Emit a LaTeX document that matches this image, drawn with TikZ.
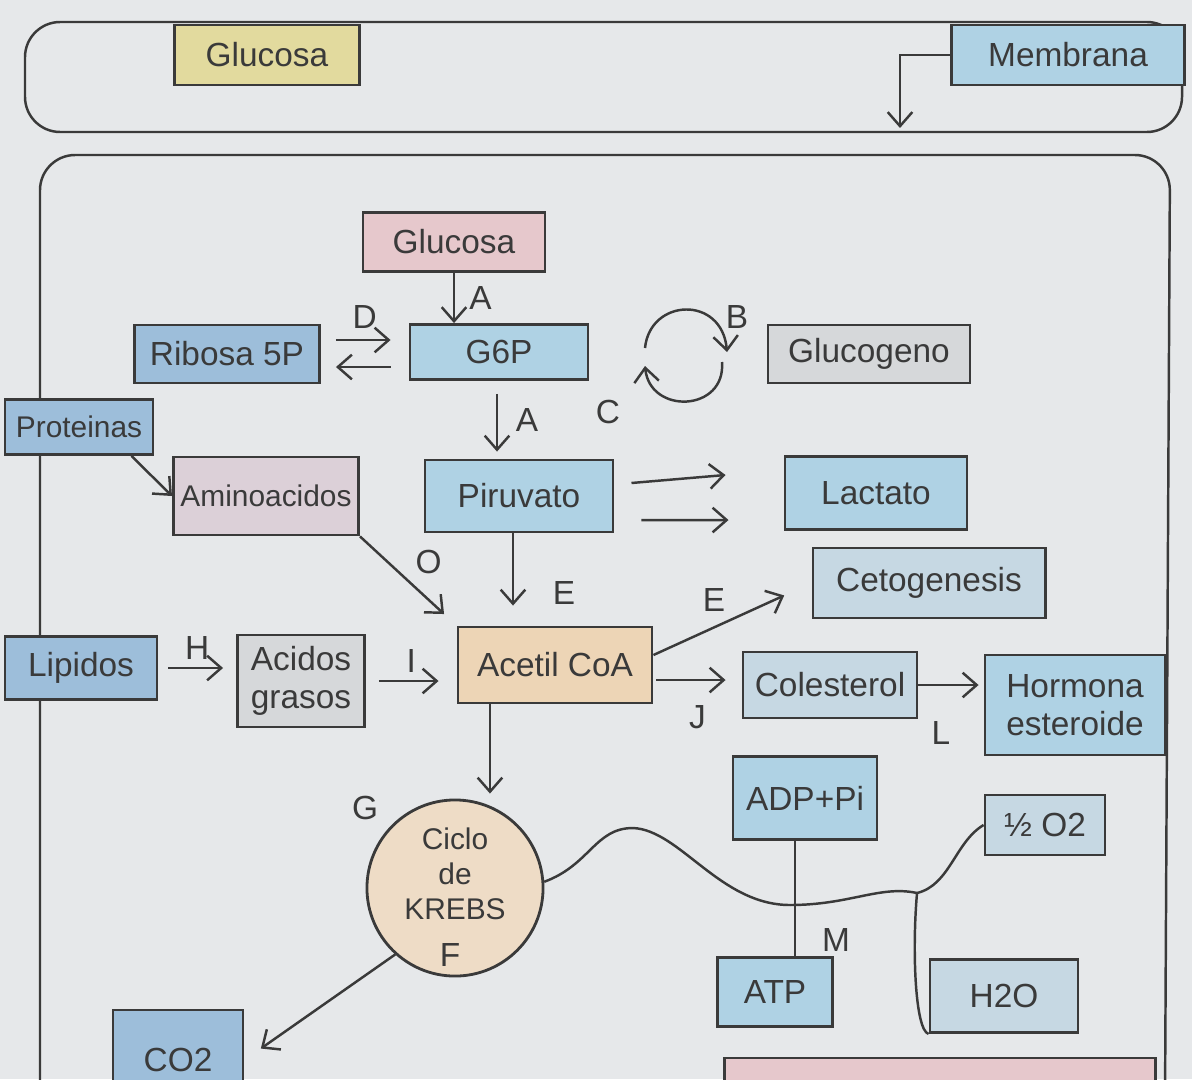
\documentclass[tikz,border=0pt]{standalone}
\usepackage{fontspec}
\setmainfont{Liberation Sans}
\usepackage{xcolor}
\usetikzlibrary{arrows.meta, positioning, calc}

\definecolor{paper}{HTML}{E6E8EA}
\definecolor{ink}{HTML}{3A3A3A}
\definecolor{cyel}{HTML}{E2DA9E}
\definecolor{cblue}{HTML}{AFD2E4}
\definecolor{cdblue}{HTML}{9DBEDA}
\definecolor{clblue}{HTML}{C6D8E3}
\definecolor{cpink}{HTML}{E6C8CC}
\definecolor{clav}{HTML}{DCD0D8}
\definecolor{cgray}{HTML}{D6D8DA}
\definecolor{cpeach}{HTML}{EDD5B6}
\definecolor{ckrebs}{HTML}{EEDCC6}

\begin{document}
\begin{tikzpicture}[x=0.01cm, y=-0.01cm,
    box/.style={rectangle, draw=ink, line width=0.8pt, inner sep=2pt, text=ink,
      font=\fontsize{9.5}{11}\selectfont, align=center},
    arrow/.style={->, >={Straight Barb[length=4pt,width=7pt]}, line width=0.7pt, draw=ink},
    wire/.style={line width=0.7pt, draw=ink},
    lbl/.style={text=ink, font=\fontsize{9.5}{11}\selectfont, inner sep=1pt}
  ]
  \clip (0,0) rectangle (1192,1079);
  \fill[paper] (0,0) rectangle (1192,1079);

  % Frames
  \draw[wire, rounded corners=10pt] (25,22) rectangle (1182,132);
  \draw[wire, rounded corners=10pt] (40,1100) |- (1170,155) -- (1165,1100);

  % Top strip
  \node[box, fill=cyel, minimum width=1.85cm, minimum height=0.6cm] (glutop) at (267,55) {Glucosa};
  \node[box, fill=cblue, minimum width=2.33cm, minimum height=0.6cm] (membrana) at (1068,55) {Membrana};
  \coordinate (memdown) at (900,128);
  \draw[arrow] (membrana.west) -| (memdown);

  % Boxes
  \node[box, fill=cpink, minimum width=1.82cm, minimum height=0.59cm] (glu) at (454,242) {Glucosa};
  \node[box, fill=cblue, minimum width=1.78cm, minimum height=0.55cm] (g6p) at (499,352) {G6P};
  \node[box, fill=cdblue, minimum width=1.85cm, minimum height=0.58cm] (ribosa) at (227,354) {Ribosa 5P};
  \node[box, fill=cgray, minimum width=2.02cm, minimum height=0.58cm] (glucogeno) at (869,354) {Glucogeno};
  \node[box, fill=cdblue, minimum width=1.48cm, minimum height=0.55cm, font=\fontsize{8.5}{10}\selectfont] (proteinas) at (79,427) {Proteinas};
  \node[box, fill=clav, minimum width=1.77cm, minimum height=0.78cm, font=\fontsize{8.5}{10}\selectfont] (amino) at (266,496) {Aminoacidos};
  \node[box, fill=cblue, minimum width=1.88cm, minimum height=0.72cm] (piruvato) at (519,496) {Piruvato};
  \node[box, fill=cblue, minimum width=1.82cm, minimum height=0.73cm] (lactato) at (876,493) {Lactato};
  \node[box, fill=clblue, minimum width=2.32cm, minimum height=0.70cm] (ceto) at (929,583) {Cetogenesis};
  \node[box, fill=cpeach, minimum width=1.94cm, minimum height=0.76cm] (acetil) at (555,665) {Acetil CoA};
  \node[box, fill=cdblue, minimum width=1.52cm, minimum height=0.63cm] (lipidos) at (81,668) {Lipidos};
  \node[box, fill=cgray, minimum width=1.27cm, minimum height=0.92cm] (acidos) at (301,681) {Acidos\\grasos};
  \node[box, fill=clblue, minimum width=1.74cm, minimum height=0.66cm] (colesterol) at (830,685) {Colesterol};
  \node[box, fill=cblue, minimum width=1.80cm, minimum height=1.00cm] (hormona) at (1075,705) {Hormona\\esteroide};
  \node[circle, draw=ink, line width=0.8pt, fill=ckrebs, minimum size=1.76cm, inner sep=0pt, align=center,
    text=ink, font=\fontsize{8.5}{10}\selectfont] (krebs) at (455,888) {Ciclo\\de\\KREBS\\[-2pt]\mbox{}};
  \node[box, fill=cblue, minimum width=1.44cm, minimum height=0.83cm] (adp) at (805,798) {ADP+Pi};
  \node[box, fill=clblue, minimum width=1.20cm, minimum height=0.60cm] (o2) at (1045,825) {½ O2};
  \node[box, fill=cblue, minimum width=1.15cm, minimum height=0.69cm] (atp) at (775,992) {ATP};
  \node[box, fill=clblue, minimum width=1.48cm, minimum height=0.73cm] (h2o) at (1004,996) {H2O};
  \node[box, fill=cdblue, minimum width=1.30cm, minimum height=1.00cm] (co2) at (178,1060) {CO2};
  \node[box, fill=cpink, minimum width=4.30cm, minimum height=0.62cm] (nextbox) at (940,1089) {};

  % Glucose to G6P and pyruvate
  \draw[arrow] (glu.south) -- node[lbl, right=3pt] {A} (glu.south |- g6p.north);
  \draw[arrow, shorten <=0.13cm, shorten >=0.07cm] ([xshift=-0.02cm]g6p.south)
    -- node[lbl, right=4pt] {A} ([xshift=-0.02cm]g6p.south |- piruvato.north);
  \draw[arrow, shorten <=0.15cm, shorten >=0.18cm] ([yshift=0.14cm]ribosa.east)
    -- node[lbl, above=2pt] {D} ([yshift=0.14cm]ribosa.east -| g6p.west);
  \draw[arrow, shorten <=0.18cm, shorten >=0.15cm] ([yshift=-0.15cm]g6p.west)
    -- ([yshift=-0.15cm]g6p.west -| ribosa.east);

  % Glycogen cycle
  \coordinate (cyc) at (684,356);
  \draw[arrow] (645,348) .. controls (650,298) and (722,295) .. (727,352);
  \draw[arrow] (722,362) .. controls (726,412) and (650,415) .. (645,366);
  \node[lbl] (lblB) at (737,317) {B};
  \node[lbl] (lblC) at (608,412) {C};

  % Amino acids and pyruvate
  \draw[arrow] ([xshift=-0.23cm]proteinas.south east) -- (amino.west);
  \draw[arrow] ([xshift=0.17cm, yshift=0.13cm]piruvato.east) -- ([xshift=-0.58cm, yshift=0.18cm]lactato.west);
  \draw[arrow] ([xshift=0.27cm, yshift=-0.24cm]piruvato.east) -- ([xshift=-0.55cm, yshift=-0.27cm]lactato.west);
  \draw[arrow, shorten >=0.17cm] (amino.south east) -- node[lbl, above right=1pt] {O} (acetil.north west);
  \draw[arrow, shorten >=0.2cm] ([xshift=-0.06cm]piruvato.south)
    -- node[lbl, right=10pt, pos=0.65] {E} ([xshift=-0.06cm]piruvato.south |- acetil.north);

  % Acetyl CoA
  \draw[arrow, shorten >=0.3cm] ([yshift=0.1cm]acetil.east) -- node[lbl, above left=1pt] {E} (ceto.west);
  \draw[arrow, shorten <=0.1cm, shorten >=0.13cm] (lipidos.east) -- node[lbl, above=1pt] {H} (lipidos.east -| acidos.west);
  \draw[arrow, shorten <=0.13cm, shorten >=0.18cm] (acidos.east) -- node[lbl, above=1pt] {I} (acidos.east -| acetil.west);
  \draw[arrow, shorten <=0.03cm, shorten >=0.16cm] ([yshift=-0.15cm]acetil.east)
    -- node[lbl, below=6pt] {J} ([yshift=-0.15cm]acetil.east -| colesterol.west);
  \draw[arrow, shorten >=0.05cm] (colesterol.east) -- node[lbl, below=9pt, xshift=-0.1cm] {L} (colesterol.east -| hormona.west);
  \draw[arrow, shorten >=0.05cm] ([xshift=-0.65cm]acetil.south) -- ([xshift=-0.65cm]acetil.south |- krebs.north);
  \node[lbl] (lblG) at (365,808) {G};

  % Krebs cycle
  \node[lbl] (lblF) at (450,955) {F};
  \draw[arrow, shorten >=0.2cm] (krebs.228) -- (co2.east);
  \draw[wire] ([xshift=-0.1cm]adp.south) -- ([xshift=-0.1cm]adp.south |- atp.north);
  \node[lbl] (lblM) at (836,940) {M};
  \coordinate (wj) at (917,893);
  \draw[wire] (krebs.4) .. controls (590,865) and (595,828) .. (633,828)
    .. controls (680,830) and (720,905) .. (790,905)
    .. controls (850,905) and (880,885) .. (wj);
  \draw[wire] (wj) .. controls (950,885) and (955,842) .. (o2.west);
  \draw[wire] (wj) .. controls (912,950) and (915,1030) .. (h2o.south west);
\end{tikzpicture}
\end{document}
